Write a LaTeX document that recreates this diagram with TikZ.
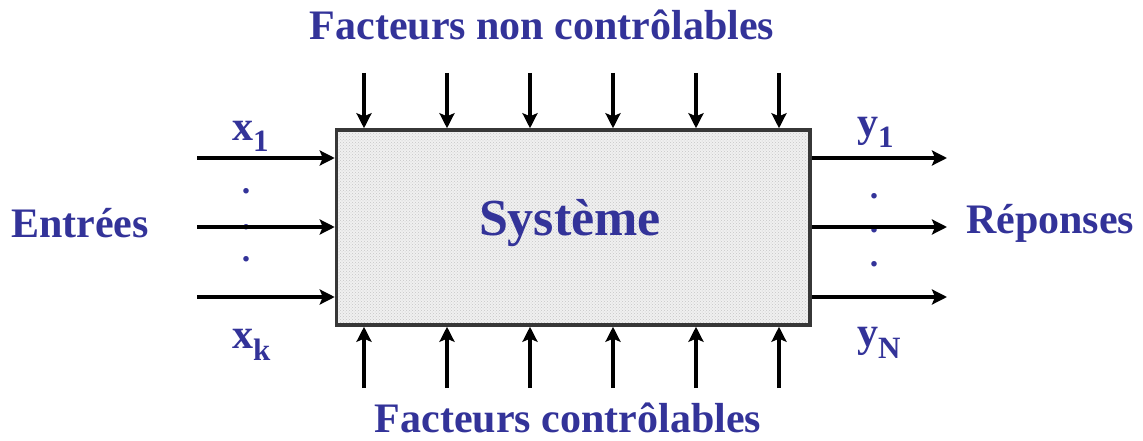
\documentclass[tikz,border=0pt]{standalone}
\usepackage{fontspec}
\setmainfont{Liberation Serif}
\usetikzlibrary{arrows.meta,patterns}
\definecolor{lbl}{RGB}{51,51,153}
\definecolor{boxedge}{RGB}{55,55,55}
\tikzset{
  sysbox/.style={draw=boxedge, line width=3.5pt, preaction={fill=gray!12},
    pattern=crosshatch dots, pattern color=gray!45, inner sep=0pt},
  arr/.style={line width=3.8pt, -{Stealth[length=15pt,width=15pt,inset=3pt]}},
  lab/.style={text=lbl, font=\bfseries\fontsize{42}{46}\selectfont, inner sep=0pt},
  dotlab/.style={text=lbl, font=\bfseries\fontsize{34}{38}\selectfont, inner sep=0pt, anchor=base},
}
\newcommand{\sublab}[2]{#1{\fontsize{31}{33}\selectfont\raisebox{-12pt}{#2}}}
\begin{document}
\begin{tikzpicture}[x=1pt,y=-1pt]
\useasboundingbox (0,0) rectangle (1143,441);
% dots (behind arrows)
\node[dotlab] (dl1) at (246,193) {.};
\node[dotlab] (dl2) at (246,229) {.};
\node[dotlab] (dl3) at (246,261) {.};
\node[dotlab] (dr1) at (874,198) {.};
\node[dotlab] (dr2) at (874,232) {.};
\node[dotlab] (dr3) at (874,266) {.};
% system box
\node[sysbox, minimum width=473.5pt, minimum height=195pt] (S) at (573.25,227.5) {};
\node[lab, font=\bfseries\fontsize{52}{56}\selectfont, anchor=base] (sys) at (570,235) {Système};
% top and bottom arrows
\foreach \i/\x in {1/364,2/447,3/530,4/613,5/696,6/779}{
  \coordinate (t\i) at (\x,73);
  \coordinate (b\i) at (\x,388);
  \draw[arr] (t\i) -- (t\i |- S.north);
  \draw[arr] (b\i) -- (b\i |- S.south);
}
% left and right arrows
\foreach \i/\y in {1/158,2/227,3/297}{
  \coordinate (l\i) at (197,\y);
  \coordinate (r\i) at (947,\y);
  \draw[arr] (l\i) -- (l\i -| S.west);
  \draw[arr] (r\i -| S.east) -- (r\i);
}
% labels
\node[lab, anchor=base] (top) at (542,40) {Facteurs non contrôlables};
\node[lab, anchor=base] (bot) at (568,432) {Facteurs contrôlables};
\node[lab, anchor=base west] (in) at (11,237) {Entrées};
\node[lab, anchor=base west] (out) at (966,233) {Réponses};
\node[lab, anchor=base west] (x1) at (232,140) {\sublab{x}{1}};
\node[lab, anchor=base west] (xk) at (232,348) {\sublab{x}{k}};
\node[lab, anchor=base west] (y1) at (857,136) {\sublab{y}{1}};
\node[lab, anchor=base west] (yN) at (857,346) {\sublab{y}{N}};
\end{tikzpicture}
\end{document}
